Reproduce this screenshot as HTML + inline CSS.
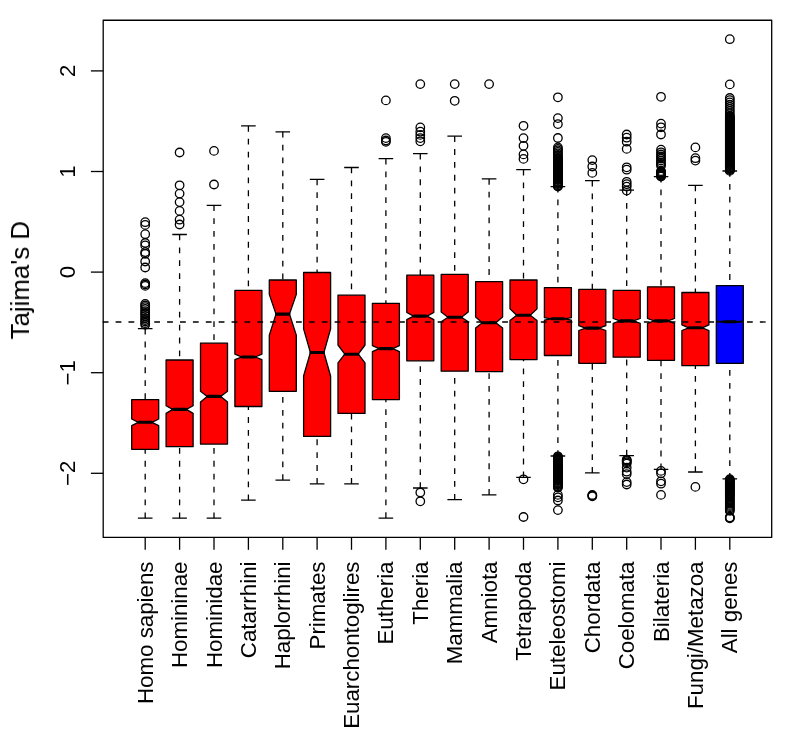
<!DOCTYPE html>
<html><head><meta charset="utf-8"><title>Tajima's D boxplot</title>
<style>html,body{margin:0;padding:0;background:#fff}body{width:785px;height:749px;overflow:hidden;font-family:"Liberation Sans",sans-serif}</style></head>
<body>
<svg width="785" height="749" viewBox="0 0 785 749" style="display:block">
<rect width="785" height="749" fill="#fff"/>
<g fill="none" stroke="#000" stroke-width="1.3" stroke-linejoin="round">
<path d="M131.7 449.3 L131.7 425.7 L138.4 422.3 L131.7 419.0 L131.7 399.6 L158.7 399.6 L158.7 419.0 L151.9 422.3 L158.7 425.7 L158.7 449.3Z" fill="#ff0000"/>
<path d="M139.1 422.3H151.3" stroke-width="3.1" stroke-linecap="round"/>
<path d="M145.2 328.7V399.6M145.2 518.2V449.3" stroke-dasharray="5.8 7.085"/>
<path d="M137.9 328.7H152.5M137.9 518.2H152.5"/>
<circle cx="145.2" cy="222.2" r="4.25"/>
<circle cx="145.2" cy="224.9" r="4.25"/>
<circle cx="145.2" cy="234.2" r="4.25"/>
<circle cx="145.2" cy="243.0" r="4.25"/>
<circle cx="145.2" cy="245.4" r="4.25"/>
<circle cx="145.2" cy="252.2" r="4.25"/>
<circle cx="145.2" cy="253.8" r="4.25"/>
<circle cx="145.2" cy="261.5" r="4.25"/>
<circle cx="145.2" cy="267.5" r="4.25"/>
<circle cx="145.2" cy="283.1" r="4.25"/>
<circle cx="145.2" cy="284.5" r="4.25"/>
<circle cx="145.2" cy="285.9" r="4.25"/>
<circle cx="145.2" cy="303.9" r="4.25"/>
<circle cx="145.2" cy="305.5" r="4.25"/>
<circle cx="145.2" cy="307.1" r="4.25"/>
<circle cx="145.2" cy="309" r="4.25"/>
<circle cx="145.2" cy="311.1" r="4.25"/>
<circle cx="145.2" cy="312.8" r="4.25"/>
<circle cx="145.2" cy="314.3" r="4.25"/>
<circle cx="145.2" cy="316.2" r="4.25"/>
<circle cx="145.2" cy="318.3" r="4.25"/>
<circle cx="145.2" cy="320" r="4.25"/>
<circle cx="145.2" cy="321.5" r="4.25"/>
<circle cx="145.2" cy="323.2" r="4.25"/>
<circle cx="145.2" cy="324.7" r="4.25"/>
<path d="M166.1 446.7 L166.1 413.4 L172.8 409.4 L166.1 405.7 L166.1 360.0 L193.1 360.0 L193.1 405.7 L186.3 409.4 L193.1 413.4 L193.1 446.7Z" fill="#ff0000"/>
<path d="M173.5 409.4H185.7" stroke-width="3.1" stroke-linecap="round"/>
<path d="M179.6 234.5V360.0M179.6 518.2V446.7" stroke-dasharray="5.8 7.085"/>
<path d="M172.3 234.5H186.9M172.3 518.2H186.9"/>
<circle cx="179.6" cy="152.5" r="4.25"/>
<circle cx="179.6" cy="185.3" r="4.25"/>
<circle cx="179.6" cy="193.6" r="4.25"/>
<circle cx="179.6" cy="202.1" r="4.25"/>
<circle cx="179.6" cy="210.9" r="4.25"/>
<circle cx="179.6" cy="219.7" r="4.25"/>
<circle cx="179.6" cy="224.5" r="4.25"/>
<path d="M200.5 444.1 L200.5 402.0 L207.2 396.4 L200.5 391.3 L200.5 343.2 L227.5 343.2 L227.5 391.3 L220.7 396.4 L227.5 402.0 L227.5 444.1Z" fill="#ff0000"/>
<path d="M207.9 396.4H220.1" stroke-width="3.1" stroke-linecap="round"/>
<path d="M214.0 205.3V343.2M214.0 518.2V444.1" stroke-dasharray="5.8 7.085"/>
<path d="M206.7 205.3H221.3M206.7 518.2H221.3"/>
<circle cx="214.0" cy="150.9" r="4.25"/>
<circle cx="214.0" cy="184.5" r="4.25"/>
<path d="M234.9 406.5 L234.9 359.7 L241.6 357.0 L234.9 354.2 L234.9 290.4 L261.9 290.4 L261.9 354.2 L255.1 357.0 L261.9 359.7 L261.9 406.5Z" fill="#ff0000"/>
<path d="M242.3 357.0H254.5" stroke-width="3.1" stroke-linecap="round"/>
<path d="M248.4 125.9V290.4M248.4 500.2V406.5" stroke-dasharray="5.8 7.085"/>
<path d="M241.1 125.9H255.7M241.1 500.2H255.7"/>
<path d="M269.3 391.3 L269.3 335.3 L276.0 314.1 L269.3 294.4 L269.3 280.0 L296.3 280.0 L296.3 294.4 L289.5 314.1 L296.3 335.3 L296.3 391.3Z" fill="#ff0000"/>
<path d="M276.7 314.1H288.9" stroke-width="3.1" stroke-linecap="round"/>
<path d="M282.8 131.8V280.0M282.8 480.1V391.3" stroke-dasharray="5.8 7.085"/>
<path d="M275.5 131.8H290.1M275.5 480.1H290.1"/>
<path d="M303.6 436.4 L303.6 376.0 L310.4 352.5 L303.6 328.9 L303.6 272.5 L330.6 272.5 L330.6 328.9 L323.9 352.5 L330.6 376.0 L330.6 436.4Z" fill="#ff0000"/>
<path d="M311.0 352.5H323.2" stroke-width="3.1" stroke-linecap="round"/>
<path d="M317.1 179.4V272.5M317.1 483.8V436.4" stroke-dasharray="5.8 7.085"/>
<path d="M309.8 179.4H324.4M309.8 483.8H324.4"/>
<path d="M338.0 413.4 L338.0 362.9 L344.8 354.2 L338.0 345.0 L338.0 295.2 L365.0 295.2 L365.0 345.0 L358.3 354.2 L365.0 362.9 L365.0 413.4Z" fill="#ff0000"/>
<path d="M345.4 354.2H357.6" stroke-width="3.1" stroke-linecap="round"/>
<path d="M351.5 167.5V295.2M351.5 483.8V413.4" stroke-dasharray="5.8 7.085"/>
<path d="M344.2 167.5H358.8M344.2 483.8H358.8"/>
<path d="M372.4 399.6 L372.4 351.6 L379.2 348.6 L372.4 345.7 L372.4 303.3 L399.4 303.3 L399.4 345.7 L392.7 348.6 L399.4 351.6 L399.4 399.6Z" fill="#ff0000"/>
<path d="M379.8 348.6H392.0" stroke-width="3.1" stroke-linecap="round"/>
<path d="M385.9 158.6V303.3M385.9 518.1V399.6" stroke-dasharray="5.8 7.085"/>
<path d="M378.6 158.6H393.2M378.6 518.1H393.2"/>
<circle cx="385.9" cy="100.4" r="4.25"/>
<circle cx="385.9" cy="138.1" r="4.25"/>
<circle cx="385.9" cy="140.5" r="4.25"/>
<circle cx="385.9" cy="141.8" r="4.25"/>
<path d="M406.8 360.8 L406.8 319.6 L413.6 316.1 L406.8 312.5 L406.8 275.2 L433.8 275.2 L433.8 312.5 L427.1 316.1 L433.8 319.6 L433.8 360.8Z" fill="#ff0000"/>
<path d="M414.2 316.1H426.4" stroke-width="3.1" stroke-linecap="round"/>
<path d="M420.3 153.6V275.2M420.3 488.0V360.8" stroke-dasharray="5.8 7.085"/>
<path d="M413.0 153.6H427.6M413.0 488.0H427.6"/>
<circle cx="420.3" cy="84.1" r="4.25"/>
<circle cx="420.3" cy="127.4" r="4.25"/>
<circle cx="420.3" cy="131.7" r="4.25"/>
<circle cx="420.3" cy="134.9" r="4.25"/>
<circle cx="420.3" cy="138.1" r="4.25"/>
<circle cx="420.3" cy="141.3" r="4.25"/>
<circle cx="420.3" cy="492.5" r="4.25"/>
<circle cx="420.3" cy="501.3" r="4.25"/>
<path d="M441.2 371.2 L441.2 321.7 L448.0 317.2 L441.2 312.1 L441.2 274.4 L468.2 274.4 L468.2 312.1 L461.5 317.2 L468.2 321.7 L468.2 371.2Z" fill="#ff0000"/>
<path d="M448.6 317.2H460.8" stroke-width="3.1" stroke-linecap="round"/>
<path d="M454.7 136.2V274.4M454.7 499.7V371.2" stroke-dasharray="5.8 7.085"/>
<path d="M447.4 136.2H462.0M447.4 499.7H462.0"/>
<circle cx="454.7" cy="84.1" r="4.25"/>
<circle cx="454.7" cy="100.8" r="4.25"/>
<path d="M475.6 371.7 L475.6 328.1 L482.3 322.8 L475.6 316.9 L475.6 281.6 L502.6 281.6 L502.6 316.9 L495.8 322.8 L502.6 328.1 L502.6 371.7Z" fill="#ff0000"/>
<path d="M483.0 322.8H495.2" stroke-width="3.1" stroke-linecap="round"/>
<path d="M489.1 178.9V281.6M489.1 494.9V371.7" stroke-dasharray="5.8 7.085"/>
<path d="M481.8 178.9H496.4M481.8 494.9H496.4"/>
<circle cx="489.1" cy="84.1" r="4.25"/>
<path d="M510.0 359.6 L510.0 320.6 L516.7 315.3 L510.0 308.9 L510.0 280.0 L537.0 280.0 L537.0 308.9 L530.2 315.3 L537.0 320.6 L537.0 359.6Z" fill="#ff0000"/>
<path d="M517.4 315.3H529.6" stroke-width="3.1" stroke-linecap="round"/>
<path d="M523.5 169.6V280.0M523.5 477.3V359.6" stroke-dasharray="5.8 7.085"/>
<path d="M516.2 169.6H530.8M516.2 477.3H530.8"/>
<circle cx="523.5" cy="125.8" r="4.25"/>
<circle cx="523.5" cy="138.1" r="4.25"/>
<circle cx="523.5" cy="145.8" r="4.25"/>
<circle cx="523.5" cy="154.4" r="4.25"/>
<circle cx="523.5" cy="158.9" r="4.25"/>
<circle cx="523.5" cy="479.3" r="4.25"/>
<circle cx="523.5" cy="517" r="4.25"/>
<path d="M544.4 355.5 L544.4 320.2 L551.1 318.8 L544.4 317.7 L544.4 287.6 L571.4 287.6 L571.4 317.7 L564.6 318.8 L571.4 320.2 L571.4 355.5Z" fill="#ff0000"/>
<path d="M551.8 318.8H564.0" stroke-width="3.1" stroke-linecap="round"/>
<path d="M557.9 186.6V287.6M557.9 456.0V355.5" stroke-dasharray="5.8 7.085"/>
<path d="M550.6 186.6H565.2M550.6 456.0H565.2"/>
<circle cx="557.9" cy="97.3" r="4.25"/>
<circle cx="557.9" cy="118.1" r="4.25"/>
<circle cx="557.9" cy="124.1" r="4.25"/>
<circle cx="557.9" cy="138" r="4.25"/>
<circle cx="557.9" cy="147.4" r="4.25"/>
<circle cx="557.9" cy="148.9" r="4.25"/>
<circle cx="557.9" cy="150.4" r="4.25"/>
<circle cx="557.9" cy="151.9" r="4.25"/>
<circle cx="557.9" cy="153.4" r="4.25"/>
<circle cx="557.9" cy="154.9" r="4.25"/>
<circle cx="557.9" cy="156.4" r="4.25"/>
<circle cx="557.9" cy="157.9" r="4.25"/>
<circle cx="557.9" cy="158.5" r="4.25"/>
<circle cx="557.9" cy="159.3" r="4.25"/>
<circle cx="557.9" cy="160.1" r="4.25"/>
<circle cx="557.9" cy="160.9" r="4.25"/>
<circle cx="557.9" cy="161.7" r="4.25"/>
<circle cx="557.9" cy="162.5" r="4.25"/>
<circle cx="557.9" cy="163.3" r="4.25"/>
<circle cx="557.9" cy="164.1" r="4.25"/>
<circle cx="557.9" cy="164.9" r="4.25"/>
<circle cx="557.9" cy="165.7" r="4.25"/>
<circle cx="557.9" cy="166.5" r="4.25"/>
<circle cx="557.9" cy="167.3" r="4.25"/>
<circle cx="557.9" cy="168.1" r="4.25"/>
<circle cx="557.9" cy="168.9" r="4.25"/>
<circle cx="557.9" cy="169.7" r="4.25"/>
<circle cx="557.9" cy="170.5" r="4.25"/>
<circle cx="557.9" cy="171.3" r="4.25"/>
<circle cx="557.9" cy="172.1" r="4.25"/>
<circle cx="557.9" cy="172.9" r="4.25"/>
<circle cx="557.9" cy="173.7" r="4.25"/>
<circle cx="557.9" cy="174.5" r="4.25"/>
<circle cx="557.9" cy="175.3" r="4.25"/>
<circle cx="557.9" cy="176.1" r="4.25"/>
<circle cx="557.9" cy="176.9" r="4.25"/>
<circle cx="557.9" cy="177.7" r="4.25"/>
<circle cx="557.9" cy="178.5" r="4.25"/>
<circle cx="557.9" cy="179.3" r="4.25"/>
<circle cx="557.9" cy="180.1" r="4.25"/>
<circle cx="557.9" cy="180.9" r="4.25"/>
<circle cx="557.9" cy="181.7" r="4.25"/>
<circle cx="557.9" cy="182.5" r="4.25"/>
<circle cx="557.9" cy="183.3" r="4.25"/>
<circle cx="557.9" cy="184.1" r="4.25"/>
<circle cx="557.9" cy="184.9" r="4.25"/>
<circle cx="557.9" cy="185.7" r="4.25"/>
<circle cx="557.9" cy="186.5" r="4.25"/>
<circle cx="557.9" cy="456.3" r="4.25"/>
<circle cx="557.9" cy="457.1" r="4.25"/>
<circle cx="557.9" cy="457.9" r="4.25"/>
<circle cx="557.9" cy="458.7" r="4.25"/>
<circle cx="557.9" cy="459.5" r="4.25"/>
<circle cx="557.9" cy="460.3" r="4.25"/>
<circle cx="557.9" cy="461.1" r="4.25"/>
<circle cx="557.9" cy="461.9" r="4.25"/>
<circle cx="557.9" cy="462.7" r="4.25"/>
<circle cx="557.9" cy="463.5" r="4.25"/>
<circle cx="557.9" cy="464.3" r="4.25"/>
<circle cx="557.9" cy="465.1" r="4.25"/>
<circle cx="557.9" cy="465.9" r="4.25"/>
<circle cx="557.9" cy="466.7" r="4.25"/>
<circle cx="557.9" cy="467.5" r="4.25"/>
<circle cx="557.9" cy="468.3" r="4.25"/>
<circle cx="557.9" cy="469.1" r="4.25"/>
<circle cx="557.9" cy="469.9" r="4.25"/>
<circle cx="557.9" cy="470.7" r="4.25"/>
<circle cx="557.9" cy="471.5" r="4.25"/>
<circle cx="557.9" cy="472.3" r="4.25"/>
<circle cx="557.9" cy="473.1" r="4.25"/>
<circle cx="557.9" cy="473.9" r="4.25"/>
<circle cx="557.9" cy="474.7" r="4.25"/>
<circle cx="557.9" cy="475.5" r="4.25"/>
<circle cx="557.9" cy="476.3" r="4.25"/>
<circle cx="557.9" cy="477.1" r="4.25"/>
<circle cx="557.9" cy="477.9" r="4.25"/>
<circle cx="557.9" cy="478.7" r="4.25"/>
<circle cx="557.9" cy="479.5" r="4.25"/>
<circle cx="557.9" cy="480.3" r="4.25"/>
<circle cx="557.9" cy="481.1" r="4.25"/>
<circle cx="557.9" cy="481.9" r="4.25"/>
<circle cx="557.9" cy="482.7" r="4.25"/>
<circle cx="557.9" cy="483.5" r="4.25"/>
<circle cx="557.9" cy="484.3" r="4.25"/>
<circle cx="557.9" cy="485.1" r="4.25"/>
<circle cx="557.9" cy="485.9" r="4.25"/>
<circle cx="557.9" cy="486.7" r="4.25"/>
<circle cx="557.9" cy="487.5" r="4.25"/>
<circle cx="557.9" cy="494.9" r="4.25"/>
<circle cx="557.9" cy="497.3" r="4.25"/>
<circle cx="557.9" cy="500.5" r="4.25"/>
<circle cx="557.9" cy="510.1" r="4.25"/>
<path d="M578.8 363.3 L578.8 330.5 L585.5 328.1 L578.8 325.7 L578.8 289.3 L605.8 289.3 L605.8 325.7 L599.0 328.1 L605.8 330.5 L605.8 363.3Z" fill="#ff0000"/>
<path d="M586.2 328.1H598.4" stroke-width="3.1" stroke-linecap="round"/>
<path d="M592.3 180.6V289.3M592.3 472.9V363.3" stroke-dasharray="5.8 7.085"/>
<path d="M585.0 180.6H599.6M585.0 472.9H599.6"/>
<circle cx="592.3" cy="160.1" r="4.25"/>
<circle cx="592.3" cy="166.5" r="4.25"/>
<circle cx="592.3" cy="172.9" r="4.25"/>
<circle cx="592.3" cy="494.9" r="4.25"/>
<circle cx="592.3" cy="495.6" r="4.25"/>
<circle cx="592.3" cy="496.3" r="4.25"/>
<path d="M613.2 357.2 L613.2 323.3 L619.9 320.9 L613.2 318.5 L613.2 290.4 L640.2 290.4 L640.2 318.5 L633.4 320.9 L640.2 323.3 L640.2 357.2Z" fill="#ff0000"/>
<path d="M620.6 320.9H632.8" stroke-width="3.1" stroke-linecap="round"/>
<path d="M626.7 190.1V290.4M626.7 455.6V357.2" stroke-dasharray="5.8 7.085"/>
<path d="M619.4 190.1H634.0M619.4 455.6H634.0"/>
<circle cx="626.7" cy="134.5" r="4.25"/>
<circle cx="626.7" cy="137.7" r="4.25"/>
<circle cx="626.7" cy="141.7" r="4.25"/>
<circle cx="626.7" cy="148.9" r="4.25"/>
<circle cx="626.7" cy="167.3" r="4.25"/>
<circle cx="626.7" cy="169.7" r="4.25"/>
<circle cx="626.7" cy="181.8" r="4.25"/>
<circle cx="626.7" cy="184.2" r="4.25"/>
<circle cx="626.7" cy="186.6" r="4.25"/>
<circle cx="626.7" cy="190.6" r="4.25"/>
<circle cx="626.7" cy="459.6" r="4.25"/>
<circle cx="626.7" cy="460.4" r="4.25"/>
<circle cx="626.7" cy="461.2" r="4.25"/>
<circle cx="626.7" cy="462.3" r="4.25"/>
<circle cx="626.7" cy="463.6" r="4.25"/>
<circle cx="626.7" cy="467.6" r="4.25"/>
<circle cx="626.7" cy="471.7" r="4.25"/>
<circle cx="626.7" cy="474.1" r="4.25"/>
<circle cx="626.7" cy="482.1" r="4.25"/>
<circle cx="626.7" cy="484.5" r="4.25"/>
<path d="M647.5 360.3 L647.5 323.3 L654.3 320.9 L647.5 318.5 L647.5 286.8 L674.5 286.8 L674.5 318.5 L667.8 320.9 L674.5 323.3 L674.5 360.3Z" fill="#ff0000"/>
<path d="M654.9 320.9H667.1" stroke-width="3.1" stroke-linecap="round"/>
<path d="M661.0 176.6V286.8M661.0 469.3V360.3" stroke-dasharray="5.8 7.085"/>
<path d="M653.8 176.6H668.3M653.8 469.3H668.3"/>
<circle cx="661.0" cy="96.8" r="4.25"/>
<circle cx="661.0" cy="123.6" r="4.25"/>
<circle cx="661.0" cy="127.3" r="4.25"/>
<circle cx="661.0" cy="134.5" r="4.25"/>
<circle cx="661.0" cy="149.7" r="4.25"/>
<circle cx="661.0" cy="152.3" r="4.25"/>
<circle cx="661.0" cy="154.5" r="4.25"/>
<circle cx="661.0" cy="156.5" r="4.25"/>
<circle cx="661.0" cy="158.5" r="4.25"/>
<circle cx="661.0" cy="160.5" r="4.25"/>
<circle cx="661.0" cy="162.5" r="4.25"/>
<circle cx="661.0" cy="164" r="4.25"/>
<circle cx="661.0" cy="165.7" r="4.25"/>
<circle cx="661.0" cy="171.2" r="4.25"/>
<circle cx="661.0" cy="171.9" r="4.25"/>
<circle cx="661.0" cy="172.6" r="4.25"/>
<circle cx="661.0" cy="173.3" r="4.25"/>
<circle cx="661.0" cy="174" r="4.25"/>
<circle cx="661.0" cy="174.7" r="4.25"/>
<circle cx="661.0" cy="175.4" r="4.25"/>
<circle cx="661.0" cy="176.1" r="4.25"/>
<circle cx="661.0" cy="176.6" r="4.25"/>
<circle cx="661.0" cy="470.9" r="4.25"/>
<circle cx="661.0" cy="473.3" r="4.25"/>
<circle cx="661.0" cy="481.3" r="4.25"/>
<circle cx="661.0" cy="483.7" r="4.25"/>
<circle cx="661.0" cy="494.9" r="4.25"/>
<path d="M681.9 365.7 L681.9 330.5 L688.7 327.8 L681.9 324.9 L681.9 292.5 L708.9 292.5 L708.9 324.9 L702.2 327.8 L708.9 330.5 L708.9 365.7Z" fill="#ff0000"/>
<path d="M689.3 327.8H701.5" stroke-width="3.1" stroke-linecap="round"/>
<path d="M695.4 185.4V292.5M695.4 472.0V365.7" stroke-dasharray="5.8 7.085"/>
<path d="M688.1 185.4H702.7M688.1 472.0H702.7"/>
<circle cx="695.4" cy="147.4" r="4.25"/>
<circle cx="695.4" cy="158.2" r="4.25"/>
<circle cx="695.4" cy="160.6" r="4.25"/>
<circle cx="695.4" cy="486.9" r="4.25"/>
<path d="M716.3 363.3 L716.3 322.2 L723.1 321.7 L716.3 321.2 L716.3 285.6 L743.3 285.6 L743.3 321.2 L736.6 321.7 L743.3 322.2 L743.3 363.3Z" fill="#0000ff"/>
<path d="M723.7 321.7H735.9" stroke-width="3.1" stroke-linecap="round"/>
<path d="M729.8 171.0V285.6M729.8 478.9V363.3" stroke-dasharray="5.8 7.085"/>
<path d="M722.5 171.0H737.1M722.5 478.9H737.1"/>
<circle cx="729.8" cy="39.2" r="4.25"/>
<circle cx="729.8" cy="84.4" r="4.25"/>
<circle cx="729.8" cy="98" r="4.25"/>
<circle cx="729.8" cy="100.2" r="4.25"/>
<circle cx="729.8" cy="102.4" r="4.25"/>
<circle cx="729.8" cy="104.6" r="4.25"/>
<circle cx="729.8" cy="106.8" r="4.25"/>
<circle cx="729.8" cy="109.0" r="4.25"/>
<circle cx="729.8" cy="111.2" r="4.25"/>
<circle cx="729.8" cy="113.4" r="4.25"/>
<circle cx="729.8" cy="115.6" r="4.25"/>
<circle cx="729.8" cy="116.5" r="4.25"/>
<circle cx="729.8" cy="117.3" r="4.25"/>
<circle cx="729.8" cy="118.1" r="4.25"/>
<circle cx="729.8" cy="118.9" r="4.25"/>
<circle cx="729.8" cy="119.7" r="4.25"/>
<circle cx="729.8" cy="120.5" r="4.25"/>
<circle cx="729.8" cy="121.3" r="4.25"/>
<circle cx="729.8" cy="122.1" r="4.25"/>
<circle cx="729.8" cy="122.9" r="4.25"/>
<circle cx="729.8" cy="123.7" r="4.25"/>
<circle cx="729.8" cy="124.5" r="4.25"/>
<circle cx="729.8" cy="125.3" r="4.25"/>
<circle cx="729.8" cy="126.1" r="4.25"/>
<circle cx="729.8" cy="126.9" r="4.25"/>
<circle cx="729.8" cy="127.7" r="4.25"/>
<circle cx="729.8" cy="128.5" r="4.25"/>
<circle cx="729.8" cy="129.3" r="4.25"/>
<circle cx="729.8" cy="130.1" r="4.25"/>
<circle cx="729.8" cy="130.9" r="4.25"/>
<circle cx="729.8" cy="131.7" r="4.25"/>
<circle cx="729.8" cy="132.5" r="4.25"/>
<circle cx="729.8" cy="133.3" r="4.25"/>
<circle cx="729.8" cy="134.1" r="4.25"/>
<circle cx="729.8" cy="134.9" r="4.25"/>
<circle cx="729.8" cy="135.7" r="4.25"/>
<circle cx="729.8" cy="136.5" r="4.25"/>
<circle cx="729.8" cy="137.3" r="4.25"/>
<circle cx="729.8" cy="138.1" r="4.25"/>
<circle cx="729.8" cy="138.9" r="4.25"/>
<circle cx="729.8" cy="139.7" r="4.25"/>
<circle cx="729.8" cy="140.5" r="4.25"/>
<circle cx="729.8" cy="141.3" r="4.25"/>
<circle cx="729.8" cy="142.1" r="4.25"/>
<circle cx="729.8" cy="142.9" r="4.25"/>
<circle cx="729.8" cy="143.7" r="4.25"/>
<circle cx="729.8" cy="144.5" r="4.25"/>
<circle cx="729.8" cy="145.3" r="4.25"/>
<circle cx="729.8" cy="146.1" r="4.25"/>
<circle cx="729.8" cy="146.9" r="4.25"/>
<circle cx="729.8" cy="147.7" r="4.25"/>
<circle cx="729.8" cy="148.5" r="4.25"/>
<circle cx="729.8" cy="149.3" r="4.25"/>
<circle cx="729.8" cy="150.1" r="4.25"/>
<circle cx="729.8" cy="150.9" r="4.25"/>
<circle cx="729.8" cy="151.7" r="4.25"/>
<circle cx="729.8" cy="152.5" r="4.25"/>
<circle cx="729.8" cy="153.3" r="4.25"/>
<circle cx="729.8" cy="154.1" r="4.25"/>
<circle cx="729.8" cy="154.9" r="4.25"/>
<circle cx="729.8" cy="155.7" r="4.25"/>
<circle cx="729.8" cy="156.5" r="4.25"/>
<circle cx="729.8" cy="157.3" r="4.25"/>
<circle cx="729.8" cy="158.1" r="4.25"/>
<circle cx="729.8" cy="158.9" r="4.25"/>
<circle cx="729.8" cy="159.7" r="4.25"/>
<circle cx="729.8" cy="160.5" r="4.25"/>
<circle cx="729.8" cy="161.3" r="4.25"/>
<circle cx="729.8" cy="162.1" r="4.25"/>
<circle cx="729.8" cy="162.9" r="4.25"/>
<circle cx="729.8" cy="163.7" r="4.25"/>
<circle cx="729.8" cy="164.5" r="4.25"/>
<circle cx="729.8" cy="165.3" r="4.25"/>
<circle cx="729.8" cy="166.1" r="4.25"/>
<circle cx="729.8" cy="166.9" r="4.25"/>
<circle cx="729.8" cy="167.7" r="4.25"/>
<circle cx="729.8" cy="168.5" r="4.25"/>
<circle cx="729.8" cy="169.3" r="4.25"/>
<circle cx="729.8" cy="170.1" r="4.25"/>
<circle cx="729.8" cy="170.9" r="4.25"/>
<circle cx="729.8" cy="479.2" r="4.25"/>
<circle cx="729.8" cy="480.0" r="4.25"/>
<circle cx="729.8" cy="480.8" r="4.25"/>
<circle cx="729.8" cy="481.6" r="4.25"/>
<circle cx="729.8" cy="482.4" r="4.25"/>
<circle cx="729.8" cy="483.2" r="4.25"/>
<circle cx="729.8" cy="484.0" r="4.25"/>
<circle cx="729.8" cy="484.8" r="4.25"/>
<circle cx="729.8" cy="485.6" r="4.25"/>
<circle cx="729.8" cy="486.4" r="4.25"/>
<circle cx="729.8" cy="487.2" r="4.25"/>
<circle cx="729.8" cy="488.0" r="4.25"/>
<circle cx="729.8" cy="488.8" r="4.25"/>
<circle cx="729.8" cy="489.6" r="4.25"/>
<circle cx="729.8" cy="490.4" r="4.25"/>
<circle cx="729.8" cy="491.2" r="4.25"/>
<circle cx="729.8" cy="492.0" r="4.25"/>
<circle cx="729.8" cy="492.8" r="4.25"/>
<circle cx="729.8" cy="493.6" r="4.25"/>
<circle cx="729.8" cy="494.4" r="4.25"/>
<circle cx="729.8" cy="495.2" r="4.25"/>
<circle cx="729.8" cy="496.5" r="4.25"/>
<circle cx="729.8" cy="497.7" r="4.25"/>
<circle cx="729.8" cy="498.9" r="4.25"/>
<circle cx="729.8" cy="500.1" r="4.25"/>
<circle cx="729.8" cy="501.3" r="4.25"/>
<circle cx="729.8" cy="502.5" r="4.25"/>
<circle cx="729.8" cy="503.7" r="4.25"/>
<circle cx="729.8" cy="504.9" r="4.25"/>
<circle cx="729.8" cy="506.1" r="4.25"/>
<circle cx="729.8" cy="507.3" r="4.25"/>
<circle cx="729.8" cy="508.5" r="4.25"/>
<circle cx="729.8" cy="509.7" r="4.25"/>
<circle cx="729.8" cy="510.9" r="4.25"/>
<circle cx="729.8" cy="517.3" r="4.25"/>
<circle cx="729.8" cy="517.8" r="4.25"/>
<circle cx="729.8" cy="518.3" r="4.25"/>
<path d="M145.2 537.45V549.8"/>
<path d="M179.6 537.45V549.8"/>
<path d="M214.0 537.45V549.8"/>
<path d="M248.4 537.45V549.8"/>
<path d="M282.8 537.45V549.8"/>
<path d="M317.1 537.45V549.8"/>
<path d="M351.5 537.45V549.8"/>
<path d="M385.9 537.45V549.8"/>
<path d="M420.3 537.45V549.8"/>
<path d="M454.7 537.45V549.8"/>
<path d="M489.1 537.45V549.8"/>
<path d="M523.5 537.45V549.8"/>
<path d="M557.9 537.45V549.8"/>
<path d="M592.3 537.45V549.8"/>
<path d="M626.7 537.45V549.8"/>
<path d="M661.0 537.45V549.8"/>
<path d="M695.4 537.45V549.8"/>
<path d="M729.8 537.45V549.8"/>
<path d="M103.2 473.3H90.9"/>
<path d="M103.2 372.7H90.9"/>
<path d="M103.2 272.1H90.9"/>
<path d="M103.2 171.5H90.9"/>
<path d="M103.2 70.9H90.9"/>
<rect x="103.2" y="20.25" width="668.5" height="517.2"/>
<path d="M102.7 322H771.7" stroke-dasharray="5.8 7.085"/>
</g>
<g font-family="Liberation Sans, sans-serif" font-size="22.3" fill="#000" opacity="0.999">
<text transform="translate(152.7 561.5) rotate(-90)" text-anchor="end">Homo sapiens</text>
<text transform="translate(187.1 561.5) rotate(-90)" text-anchor="end">Homininae</text>
<text transform="translate(221.5 561.5) rotate(-90)" text-anchor="end">Hominidae</text>
<text transform="translate(255.9 561.5) rotate(-90)" text-anchor="end">Catarrhini</text>
<text transform="translate(290.3 561.5) rotate(-90)" text-anchor="end">Haplorrhini</text>
<text transform="translate(324.6 561.5) rotate(-90)" text-anchor="end">Primates</text>
<text transform="translate(359.0 561.5) rotate(-90)" text-anchor="end">Euarchontoglires</text>
<text transform="translate(393.4 561.5) rotate(-90)" text-anchor="end">Eutheria</text>
<text transform="translate(427.8 561.5) rotate(-90)" text-anchor="end">Theria</text>
<text transform="translate(462.2 561.5) rotate(-90)" text-anchor="end">Mammalia</text>
<text transform="translate(496.6 561.5) rotate(-90)" text-anchor="end">Amniota</text>
<text transform="translate(531.0 561.5) rotate(-90)" text-anchor="end">Tetrapoda</text>
<text transform="translate(565.4 561.5) rotate(-90)" text-anchor="end">Euteleostomi</text>
<text transform="translate(599.8 561.5) rotate(-90)" text-anchor="end">Chordata</text>
<text transform="translate(634.2 561.5) rotate(-90)" text-anchor="end">Coelomata</text>
<text transform="translate(668.5 561.5) rotate(-90)" text-anchor="end">Bilateria</text>
<text transform="translate(702.9 561.5) rotate(-90)" text-anchor="end">Fungi/Metazoa</text>
<text transform="translate(737.3 561.5) rotate(-90)" text-anchor="end">All genes</text>
<text transform="translate(74.5 473.3) rotate(-90)" text-anchor="middle">−2</text>
<text transform="translate(74.5 372.7) rotate(-90)" text-anchor="middle">−1</text>
<text transform="translate(74.5 272.1) rotate(-90)" text-anchor="middle">0</text>
<text transform="translate(74.5 171.5) rotate(-90)" text-anchor="middle">1</text>
<text transform="translate(74.5 70.9) rotate(-90)" text-anchor="middle">2</text>
<text transform="translate(29 280.2) rotate(-90)" text-anchor="middle" font-size="25.9">Tajima's D</text>
</g></svg>
</body></html>
